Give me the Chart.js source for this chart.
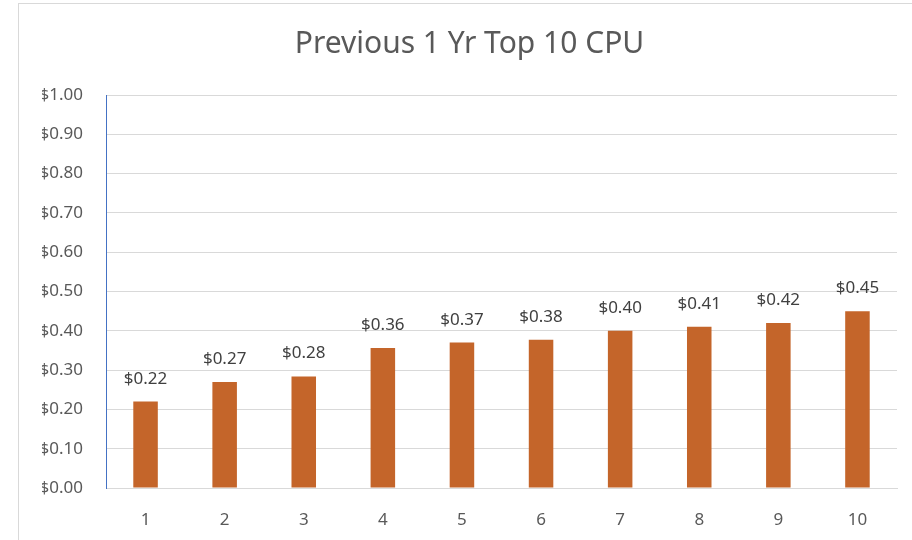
<!DOCTYPE html>
<html>
<head>
<meta charset="utf-8">
<script src="https://cdn.jsdelivr.net/npm/chart.js@4/dist/chart.umd.min.js"></script>
<style>
  body { margin: 0; background: #fff; }
</style>
</head>
<body>
<canvas id="graficoCpu" width="912" height="540"></canvas>
<script>
const categorias = ['1', '2', '3', '4', '5', '6', '7', '8', '9', '10'];
const valoresCpu = [0.22, 0.27, 0.284, 0.356, 0.37, 0.377, 0.40, 0.41, 0.42, 0.45];
const titulo = 'Previous 1 Yr Top 10 CPU';

const fonte = "'Noto Sans', 'Open Sans', sans-serif";
const corTexto = '#595959';

function formataDolar(v) {
  return '$' + Number(v).toFixed(2);
}

// moldura do gráfico (só topo e esquerda aparecem)
const moldura = {
  id: 'moldura',
  beforeDraw(chart) {
    const ctx = chart.ctx;
    ctx.save();
    ctx.strokeStyle = '#d9d9d9';
    ctx.lineWidth = 1;
    ctx.strokeRect(18.5, 3.5, 1000, 1000);
    ctx.restore();
  }
};

// rótulos de valor em cima das barras
const rotulos = {
  id: 'rotulos',
  afterDatasetsDraw(chart) {
    const ctx = chart.ctx;
    ctx.save();
    ctx.font = '17px ' + fonte;
    ctx.fillStyle = '#404040';
    ctx.textAlign = 'center';
    ctx.textBaseline = 'alphabetic';
    chart.getDatasetMeta(0).data.forEach((barra, i) => {
      ctx.fillText(formataDolar(valoresCpu[i]), barra.x, barra.y - 18);
    });
    ctx.restore();
  }
};

const graficoCpu = document.getElementById('graficoCpu');
new Chart(graficoCpu, {
  type: 'bar',
  data: {
    labels: categorias,
    datasets: [{
      label: 'CPU',
      data: valoresCpu,
      backgroundColor: '#c4652a',
      borderWidth: 0,
      categoryPercentage: 1,
      barPercentage: 0.31
    }]
  },
  options: {
    responsive: false,
    animation: false,
    devicePixelRatio: 1,
    layout: { padding: { left: 42, right: 15, top: 0, bottom: 0 } },
    plugins: {
      legend: { display: false },
      tooltip: { enabled: false },
      title: {
        display: true,
        text: titulo,
        color: corTexto,
        font: { family: fonte, size: 30, weight: 'normal' },
        padding: { top: 26, bottom: 33 }
      }
    },
    scales: {
      x: {
        grid: { display: false },
        border: { color: '#d9d9d9' },
        ticks: { color: corTexto, font: { family: fonte, size: 17 }, padding: 14 },
        afterFit(scale) { scale.height = 52; }
      },
      y: {
        min: 0,
        max: 1,
        ticks: {
          stepSize: 0.1,
          color: corTexto,
          font: { family: fonte, size: 17 },
          padding: 23,
          callback: v => formataDolar(v)
        },
        grid: { color: '#d9d9d9', drawTicks: false },
        border: { color: '#4472c4' },
        afterFit(scale) { scale.width = 64; }
      }
    }
  },
  plugins: [moldura, rotulos]
});
</script>
</body>
</html>
